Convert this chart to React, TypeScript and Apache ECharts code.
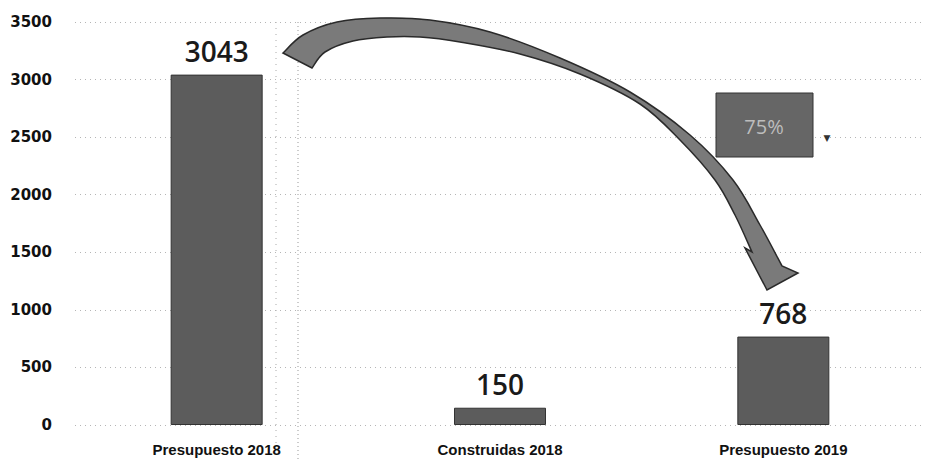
import React, { useEffect, useRef } from "react";
import * as echarts from "echarts";

const categories = ["Presupuesto 2018", "Construidas 2018", "Presupuesto 2019"];
const values = [3043, 150, 768];
const yMin = 0;
const yMax = 3500;
const yInterval = 500;
const badgeText = "75%";
const badgeArrow = "▼";

// Decorative curved arrow outline (pixel space)
const arrowOuter: number[][] = [
  [283, 53], [303, 35], [337, 22], [380, 18], [430, 20], [490, 32],
  [560, 58], [630, 92], [690, 135], [733, 180], [760, 225], [782, 266],
];
const arrowHead: number[][] = [[798, 273], [767, 290], [745, 248]];
const arrowInner: number[][] = [
  [752, 252], [735, 215], [715, 180], [680, 140], [640, 104], [580, 74],
  [520, 54], [460, 42], [420, 37], [387, 37], [353, 41], [325, 52], [312, 68],
];

function smooth(pts: number[][]): string {
  let d = "";
  for (let i = 0; i < pts.length - 1; i++) {
    const p0 = pts[Math.max(0, i - 1)];
    const p1 = pts[i];
    const p2 = pts[i + 1];
    const p3 = pts[Math.min(pts.length - 1, i + 2)];
    const c1x = p1[0] + (p2[0] - p0[0]) / 6;
    const c1y = p1[1] + (p2[1] - p0[1]) / 6;
    const c2x = p2[0] - (p3[0] - p1[0]) / 6;
    const c2y = p2[1] - (p3[1] - p1[1]) / 6;
    d += ` C ${c1x} ${c1y} ${c2x} ${c2y} ${p2[0]} ${p2[1]}`;
  }
  return d;
}

function arrowPath(): string {
  let d = `M ${arrowOuter[0][0]} ${arrowOuter[0][1]}`;
  d += smooth(arrowOuter);
  arrowHead.forEach((p) => (d += ` L ${p[0]} ${p[1]}`));
  d += ` L ${arrowInner[0][0]} ${arrowInner[0][1]}`;
  d += smooth(arrowInner);
  d += " Z";
  return d;
}

let registered = false;

export default function App() {
  const ref = useRef<HTMLDivElement>(null);
  useEffect(() => {
    document.body.style.margin = "0";
    if (!registered) {
      echarts.graphic.registerShape("bigArrow", echarts.graphic.extendPath(arrowPath(), {}) as any);
      registered = true;
    }
    const chart = echarts.init(ref.current!, null, { renderer: "svg" });
    chart.setOption({
      animation: false,
      backgroundColor: "#ffffff",
      grid: { left: 75, right: 6, top: 22, bottom: 37 },
      xAxis: {
        type: "category",
        data: categories,
        axisLine: { show: false },
        axisTick: { show: false },
        axisLabel: {
          margin: 17,
          fontFamily: "Liberation Sans",
          fontWeight: "bold",
          fontSize: 15,
          color: "#111",
        },
      },
      yAxis: {
        type: "value",
        min: yMin,
        max: yMax,
        interval: yInterval,
        axisLine: { show: false },
        axisTick: { show: false },
        axisLabel: {
          margin: 23,
          fontFamily: "DejaVu Sans",
          fontWeight: "bold",
          fontSize: 15,
          color: "#111",
          formatter: (v: number) => String(v),
        },
        splitLine: { lineStyle: { color: "#b5b5b5", type: [1, 4], width: 1 } },
      },
      series: [
        {
          type: "bar",
          data: values,
          barWidth: 92,
          itemStyle: { color: "#5c5c5c", borderColor: "#333", borderWidth: 1 },
          label: {
            show: true,
            position: "top",
            distance: 10,
            fontFamily: "Open Sans",
            fontWeight: 600,
            fontSize: 28,
            color: "#1a1a1a",
          },
        },
      ],
      graphic: [
        { type: "line", shape: { x1: 276, y1: 22, x2: 276, y2: 460 }, style: { stroke: "#aaa", lineDash: [1, 5], lineWidth: 1 } },
        { type: "line", shape: { x1: 298, y1: 22, x2: 298, y2: 460 }, style: { stroke: "#999", lineDash: [1, 3], lineWidth: 1 } },
        {
          type: "bigArrow",
          x: 0,
          y: 0,
          scaleX: 1,
          scaleY: 1,
          style: { fill: "#7a7a7a", stroke: "#2a2a2a", lineWidth: 1.5 },
          z: 10,
        },
        {
          type: "rect",
          shape: { x: 716, y: 93, width: 97, height: 64 },
          style: { fill: "#666666", stroke: "#333", lineWidth: 1 },
          z: 10,
        },
        {
          type: "text",
          x: 764,
          y: 126,
          style: {
            text: badgeText,
            fill: "#bdbdbd",
            font: "20px 'Open Sans'",
            align: "center",
            verticalAlign: "middle",
          },
          z: 11,
        },
        {
          type: "text",
          x: 827,
          y: 138,
          style: {
            text: badgeArrow,
            fill: "#333",
            font: "9px 'DejaVu Sans'",
            align: "center",
            verticalAlign: "middle",
          },
          z: 11,
        },
      ],
    });
    return () => chart.dispose();
  }, []);
  return <div ref={ref} style={{ width: 931, height: 462 }} />;
}
